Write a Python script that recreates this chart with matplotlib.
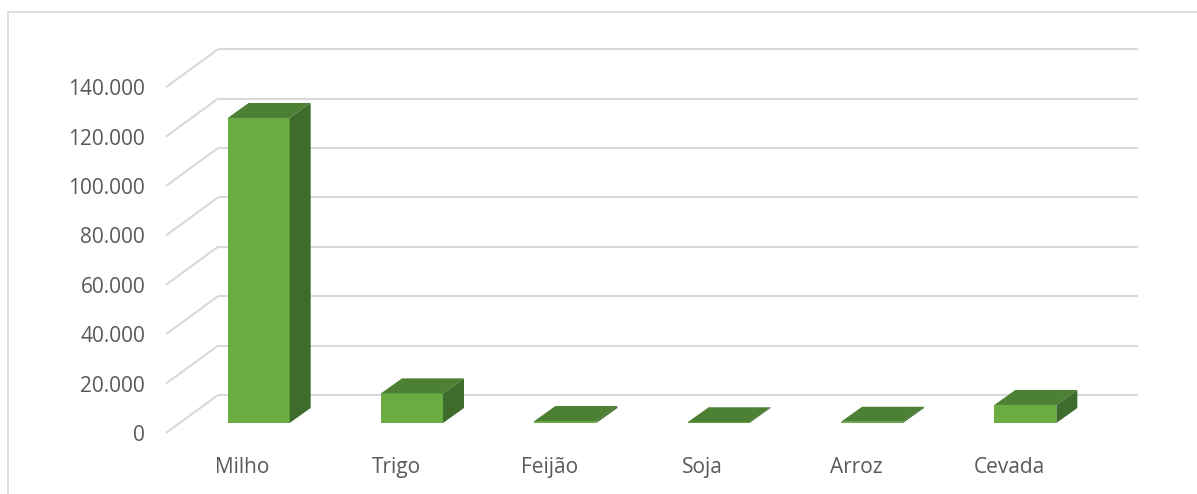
import matplotlib.pyplot as plt
from matplotlib.patches import Polygon
from matplotlib.lines import Line2D
import numpy as np

categories = ['Milho', 'Trigo', 'Feijão', 'Soja', 'Arroz', 'Cevada']
values = [123500, 12000, 800, 300, 500, 7300]
yticks = [0, 20000, 40000, 60000, 80000, 100000, 120000, 140000]
ytick_labels = ['0', '20.000', '40.000', '60.000', '80.000', '100.000', '120.000', '140.000']

W, H = 1197, 494
FRONT = '#6aab42'
TOP = '#4c8033'
SIDE = '#3e6c2c'
GRID = '#d9d9d9'
TEXT = '#595959'

plt.rcParams['font.family'] = ['Open Sans', 'DejaVu Sans']

fig = plt.figure(figsize=(W / 100, H / 100), dpi=100)
# front plane of the 3d box, in pixels
left, right, bottom, top = 166, 1086, 433, 87.2
ax = fig.add_axes([left / W, (H - bottom) / H, (right - left) / W, (bottom - top) / H])
ax.set_xlim(-0.5, 5.5)
ax.set_ylim(0, 140000)

# pixel -> data conversion
px_x = 6 / (right - left)
px_y = 140000 / (bottom - top)

floor_dx, floor_dy = 52 * px_x, 38 * px_y
bar_off_x, bar_off_y = 16 * px_x, 10 * px_y
bar_dx, bar_dy = 21 * px_x, 15 * px_y
bar_w = 62 * px_x

# gridlines: diagonal on the left wall + horizontal on the back wall
for v in yticks:
    ax.plot([-0.5, -0.5 + floor_dx], [v, v + floor_dy], color=GRID, lw=1.5,
            clip_on=False, zorder=1, solid_capstyle='butt')
    ax.plot([-0.5 + floor_dx, 5.5 + floor_dx], [v + floor_dy, v + floor_dy],
            color=GRID, lw=1.5, clip_on=False, zorder=1, solid_capstyle='butt')

x = np.arange(len(categories))
bars = ax.bar(x + bar_off_x, values, bar_w, bottom=bar_off_y, color=FRONT,
              zorder=3, clip_on=False, linewidth=0)

for b in bars:
    l = b.get_x()
    r = l + b.get_width()
    b0 = b.get_y()
    t = b0 + b.get_height()
    ax.add_patch(Polygon([(l, t), (r, t), (r + bar_dx, t + bar_dy), (l + bar_dx, t + bar_dy)],
                         closed=True, facecolor=TOP, edgecolor='none', zorder=4, clip_on=False))
    ax.add_patch(Polygon([(r, b0), (r + bar_dx, b0 + bar_dy), (r + bar_dx, t + bar_dy), (r, t)],
                         closed=True, facecolor=SIDE, edgecolor='none', zorder=4, clip_on=False))

ax.set_yticks(yticks)
ax.set_yticklabels(ytick_labels, va='center_baseline')
ax.set_xticks(x)
ax.set_xticklabels(categories)
ax.tick_params(axis='y', length=0, pad=15, labelsize=15, labelcolor=TEXT)
ax.tick_params(axis='x', length=0, pad=17, labelsize=15, labelcolor=TEXT)
for s in ax.spines.values():
    s.set_visible(False)
ax.patch.set_alpha(0)

# chart area border (cut off at right and bottom)
fig.add_artist(Line2D([8 / W, 8 / W], [0, 1 - 12 / H], color=GRID, lw=1.2, transform=fig.transFigure))
fig.add_artist(Line2D([8 / W, 1], [1 - 12 / H, 1 - 12 / H], color=GRID, lw=1.2, transform=fig.transFigure))

fig.savefig('out.png', dpi=100, facecolor='white')
